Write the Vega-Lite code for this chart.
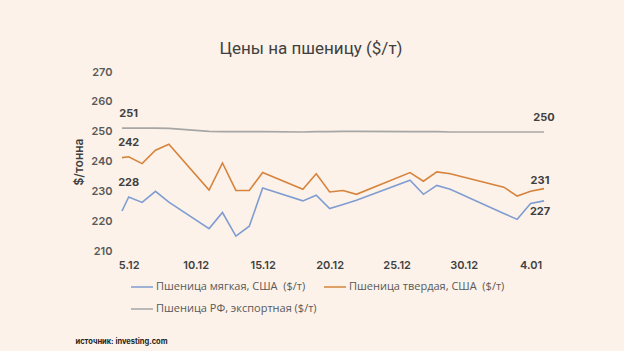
{
  "$schema": "https://vega.github.io/schema/vega-lite/v6.json",
  "width": 422,
  "height": 179,
  "autosize": {"type": "none"},
  "padding": {"left": 122, "top": 72, "right": 80, "bottom": 100},
  "background": "#FCF2E9",
  "title": {"text": "Цены на пшеницу ($/т)", "font": "Roboto", "fontSize": 17, "fontWeight": "normal", "color": "#404040", "anchor": "middle", "frame": "group", "dx": -22, "offset": 8},
  "data": {"values": [
    {"d": "2023-12-04T12:00:00Z", "soft": 223.4, "hard": 241.3, "ru": 251.2},
    {"d": "2023-12-05T00:00:00Z", "soft": 228.1, "hard": 241.6, "ru": 251.2},
    {"d": "2023-12-06T00:00:00Z", "soft": 226.3, "hard": 239.3, "ru": 251.2},
    {"d": "2023-12-07T00:00:00Z", "soft": 230.0, "hard": 243.8, "ru": 251.2},
    {"d": "2023-12-08T00:00:00Z", "soft": 226.4, "hard": 245.8, "ru": 251.1},
    {"d": "2023-12-11T00:00:00Z", "soft": 217.5, "hard": 230.4, "ru": 250.1},
    {"d": "2023-12-12T00:00:00Z", "soft": 222.9, "hard": 239.5, "ru": 250.0},
    {"d": "2023-12-13T00:00:00Z", "soft": 215.0, "hard": 230.3, "ru": 250.0},
    {"d": "2023-12-14T00:00:00Z", "soft": 218.3, "hard": 230.3, "ru": 250.0},
    {"d": "2023-12-15T00:00:00Z", "soft": 231.1, "hard": 236.3, "ru": 250.0},
    {"d": "2023-12-18T00:00:00Z", "soft": 226.8, "hard": 230.7, "ru": 249.9},
    {"d": "2023-12-19T00:00:00Z", "soft": 228.7, "hard": 235.9, "ru": 250.0},
    {"d": "2023-12-20T00:00:00Z", "soft": 224.2, "hard": 229.8, "ru": 250.0},
    {"d": "2023-12-21T00:00:00Z", "soft": 225.6, "hard": 230.3, "ru": 250.1},
    {"d": "2023-12-22T00:00:00Z", "soft": 227.0, "hard": 229.0, "ru": 250.1},
    {"d": "2023-12-26T00:00:00Z", "soft": 233.7, "hard": 236.3, "ru": 250.0},
    {"d": "2023-12-27T00:00:00Z", "soft": 229.0, "hard": 233.4, "ru": 250.0},
    {"d": "2023-12-28T00:00:00Z", "soft": 232.0, "hard": 236.5, "ru": 250.0},
    {"d": "2023-12-29T00:00:00Z", "soft": 230.7, "hard": 235.9, "ru": 249.9},
    {"d": "2024-01-02T00:00:00Z", "soft": 222.6, "hard": 231.4, "ru": 249.9},
    {"d": "2024-01-03T00:00:00Z", "soft": 220.6, "hard": 228.4, "ru": 249.9},
    {"d": "2024-01-04T00:00:00Z", "soft": 225.9, "hard": 230.0, "ru": 249.9},
    {"d": "2024-01-05T00:00:00Z", "soft": 226.8, "hard": 230.9, "ru": 249.9}
  ]},
  "transform": [{"fold": ["soft", "hard", "ru"], "as": ["series", "value"]}],
  "encoding": {
    "x": {
      "field": "d", "type": "temporal",
      "scale": {"type": "utc", "domain": [{"year": 2023, "month": 12, "date": 4, "hours": 12, "utc": true}, {"year": 2024, "month": 1, "date": 5, "utc": true}]},
      "axis": {
        "values": [
          {"year": 2023, "month": 12, "date": 5, "utc": true},
          {"year": 2023, "month": 12, "date": 10, "utc": true},
          {"year": 2023, "month": 12, "date": 15, "utc": true},
          {"year": 2023, "month": 12, "date": 20, "utc": true},
          {"year": 2023, "month": 12, "date": 25, "utc": true},
          {"year": 2023, "month": 12, "date": 30, "utc": true},
          {"year": 2024, "month": 1, "date": 4, "utc": true}
        ],
        "labelExpr": "utcFormat(datum.value, '%-d.%m')",
        "grid": false, "domain": false, "ticks": false, "labelFlush": false, "labelOverlap": false,
        "labelPadding": 8, "labelFont": "Inter", "labelFontSize": 11, "labelFontWeight": 600, "labelColor": "#404040",
        "title": "источник: investing.com", "titleFont": "Inter", "titleFontSize": 7.5, "titleFontWeight": "bold", "titleColor": "#222222",
        "titleAnchor": "start", "titleAlign": "left", "titleX": -47, "titleY": 90, "titleBaseline": "middle"
      }
    },
    "y": {
      "field": "value", "type": "quantitative",
      "scale": {"domain": [210, 270], "nice": false, "zero": false},
      "axis": {
        "values": [210, 220, 230, 240, 250, 260, 270],
        "title": "$/тонна", "grid": false, "domain": false, "ticks": false,
        "labelPadding": 10, "labelFont": "Inter", "labelFontSize": 11, "labelFontWeight": 600, "labelColor": "#595959",
        "titleFont": "Inter", "titleFontSize": 12, "titleFontWeight": 600, "titleColor": "#404040", "titlePadding": 5
      }
    }
  },
  "layer": [
    {
      "mark": {"type": "line", "strokeWidth": 1.6},
      "encoding": {
        "color": {
          "field": "series", "type": "nominal",
          "scale": {"domain": ["soft", "ru", "hard"], "range": ["#7F9DD1", "#A6A6A6", "#D6843D"]},
          "legend": {
            "title": null, "orient": "none", "legendX": 8, "legendY": 203, "columns": 2, "columnPadding": 4, "rowPadding": 5, "padding": 0,
            "symbolType": "stroke", "symbolSize": 484, "symbolStrokeWidth": 1.5, "labelOffset": 2,
            "labelFont": "Open Sans", "labelFontSize": 11, "labelColor": "#595959", "labelLimit": 300,
            "labelExpr": "datum.value == 'soft' ? 'Пшеница мягкая, США\u00a0 ($/т)' : datum.value == 'hard' ? 'Пшеница твердая, США\u00a0 ($/т)' : 'Пшеница РФ, экспортная ($/т)'"
          }
        }
      }
    },
    {
      "transform": [{"filter": "utcmonth(datum.d) == 11 && utcdate(datum.d) == 5"}],
      "mark": {"type": "text", "dy": -14, "font": "Inter", "fontSize": 11, "fontWeight": "bold", "color": "#404040"},
      "encoding": {"text": {"field": "value", "type": "quantitative", "format": ".0f"}}
    },
    {
      "transform": [{"filter": "utcmonth(datum.d) == 0 && utcdate(datum.d) == 5 && datum.series == 'ru'"}],
      "mark": {"type": "text", "dy": -14, "font": "Inter", "fontSize": 11, "fontWeight": "bold", "color": "#404040"},
      "encoding": {"text": {"field": "value", "type": "quantitative", "format": ".0f"}}
    },
    {
      "transform": [{"filter": "utcmonth(datum.d) == 0 && utcdate(datum.d) == 5 && datum.series == 'hard'"}],
      "mark": {"type": "text", "dy": -8, "dx": -4, "font": "Inter", "fontSize": 11, "fontWeight": "bold", "color": "#404040"},
      "encoding": {"text": {"field": "value", "type": "quantitative", "format": ".0f"}}
    },
    {
      "transform": [{"filter": "utcmonth(datum.d) == 0 && utcdate(datum.d) == 5 && datum.series == 'soft'"}],
      "mark": {"type": "text", "dy": 11, "dx": -4, "font": "Inter", "fontSize": 11, "fontWeight": "bold", "color": "#404040"},
      "encoding": {"text": {"field": "value", "type": "quantitative", "format": ".0f"}}
    }
  ],
  "config": {"view": {"stroke": null}}
}
